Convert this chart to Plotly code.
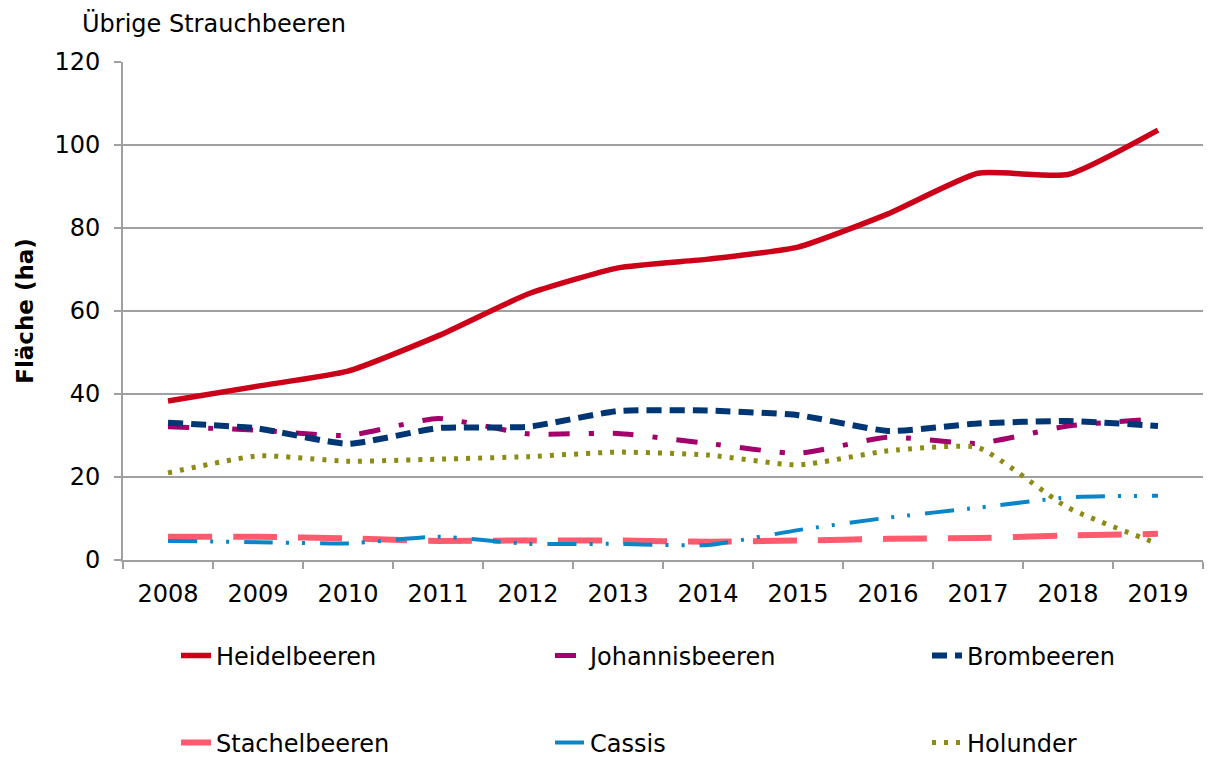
import plotly.graph_objects as go

years = ["2008", "2009", "2010", "2011", "2012", "2013", "2014", "2015", "2016", "2017", "2018", "2019"]

heidelbeeren = [38.3, 41.9, 45.5, 54.0, 64.1, 70.4, 72.5, 75.4, 83.4, 93.2, 92.9, 103.6]
johannisbeeren = [32.1, 31.3, 30.0, 34.1, 30.4, 30.5, 28.1, 25.7, 29.6, 28.1, 32.3, 34.0]
brombeeren = [33.1, 31.7, 28.0, 31.8, 32.1, 35.9, 36.0, 34.9, 31.1, 32.9, 33.5, 32.3]
stachelbeeren = [5.6, 5.6, 5.2, 4.6, 4.7, 4.7, 4.4, 4.7, 5.1, 5.3, 5.9, 6.3]
cassis = [4.6, 4.3, 4.0, 5.6, 3.9, 3.9, 3.6, 7.2, 10.2, 12.6, 15.1, 15.5]
holunder = [21.0, 25.1, 23.8, 24.3, 24.9, 26.0, 25.3, 22.9, 26.3, 27.1, 12.6, 3.9]

FONT = "DejaVu Sans"
FS = 24

series = [
    ("Heidelbeeren", heidelbeeren, "#CC0018", 5.5, "solid"),
    ("Johannisbeeren", johannisbeeren, "#A3006B", 5, "21px,19px,5px,19px"),
    ("Brombeeren", brombeeren, "#003673", 6, "15px,8px"),
    ("Stachelbeeren", stachelbeeren, "#FF5A6E", 6, "44px,21px"),
    ("Cassis", cassis, "#0A86C8", 4, "29px,13px,3px,13px,3px,15px"),
    ("Holunder", holunder, "#8C8C14", 5, "4px,8px"),
]

# legend slots (3 columns x 2 rows), one legend per entry
legend_ids = ["legend", "legend2", "legend3", "legend4", "legend5", "legend6"]
col_x = [176, 550, 927]
row_y = [656, 743]

fig = go.Figure()
for i, (name, vals, color, width, dash) in enumerate(series):
    fig.add_trace(go.Scatter(
        x=years, y=vals, name=name, mode="lines",
        line=dict(color=color, width=width, dash=dash, shape="spline", smoothing=0.5),
        legend=legend_ids[i], hoverinfo="x+y+name",
    ))

legends = {}
for i, lid in enumerate(legend_ids):
    legends[lid] = dict(
        orientation="h", xanchor="left", yanchor="middle",
        x=col_x[i % 3] / 1208, y=1 - row_y[i // 3] / 758,
        xref="container", yref="container",
        font=dict(family=FONT, size=FS, color="#000000"),
        bgcolor="rgba(0,0,0,0)", borderwidth=0,
    )

fig.update_layout(
    width=1208, height=758,
    paper_bgcolor="white", plot_bgcolor="white",
    margin=dict(l=123, r=5, t=62, b=198, autoexpand=False),
    font=dict(family=FONT, size=FS, color="#000000"),
    title=dict(text="Übrige Strauchbeeren", x=82 / 1208, xanchor="left",
               y=1 - 24 / 758, yanchor="middle", xref="container", yref="container",
               font=dict(family=FONT, size=FS, color="#000000")),
    showlegend=True,
    **legends,
)

fig.update_xaxes(
    type="category", range=[-0.5, 11.5], automargin=False,
    tickson="boundaries", ticks="outside", ticklen=7, tickcolor="#A0A0A0", tickwidth=2,
    ticklabelstandoff=11,
    showline=True, linecolor="#A0A0A0", linewidth=2,
    showgrid=False, tickfont=dict(family=FONT, size=FS, color="#000000"),
)
fig.update_yaxes(
    range=[0, 120], dtick=20, ticks="outside", ticklen=7, tickcolor="#A0A0A0", tickwidth=2,
    ticklabelstandoff=9,
    showline=True, linecolor="#A0A0A0", linewidth=2, automargin=False,
    showgrid=True, gridcolor="#A0A0A0", gridwidth=2, zeroline=False,
    tickfont=dict(family=FONT, size=FS, color="#000000"),
    title=dict(text="<b>Fläche (ha)</b>", font=dict(family=FONT, size=FS - 1, color="#000000"), standoff=14),
)

fig.write_html("out.html", config={"displayModeBar": False},
               post_script="document.body.style.margin='0px';")
